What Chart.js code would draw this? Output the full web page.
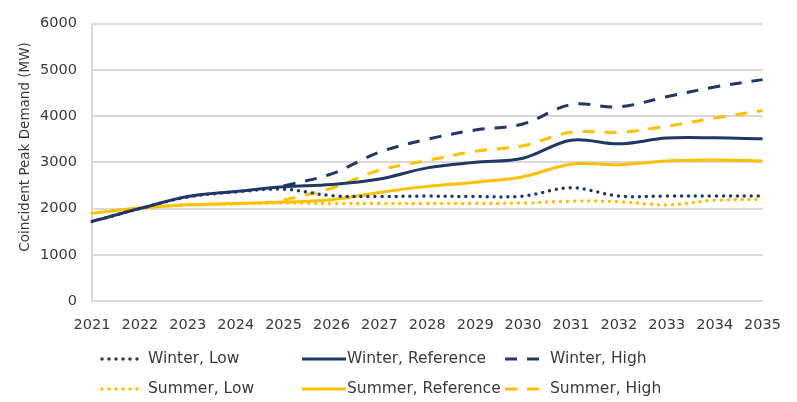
<!DOCTYPE html>
<html>
<head>
<meta charset="utf-8">
<script src="https://cdn.jsdelivr.net/npm/chart.js@4.4.0/dist/chart.umd.min.js"></script>
<style>
html,body{margin:0;padding:0;background:#fff;}
#wrap{position:relative;width:797px;height:402px;}
</style>
</head>
<body>
<div id="wrap"><canvas id="c" width="797" height="402"></canvas></div>
<script>
const years = ['2021','2022','2023','2024','2025','2026','2027','2028','2029','2030','2031','2032','2033','2034','2035'];
const winterLow  = [1720, 2000, 2250, 2360, 2420, 2280, 2260, 2270, 2260, 2270, 2450, 2270, 2270, 2270, 2270];
const winterRef  = [1720, 2000, 2260, 2370, 2470, 2520, 2640, 2880, 3000, 3090, 3480, 3400, 3525, 3530, 3510];
const winterHigh = [null, null, null, null, 2490, 2750, 3220, 3500, 3700, 3830, 4250, 4200, 4420, 4630, 4790];
const summerLow  = [1900, 2010, 2080, 2100, 2120, 2110, 2110, 2110, 2110, 2120, 2160, 2150, 2080, 2180, 2200];
const summerRef  = [1900, 2010, 2080, 2110, 2140, 2190, 2350, 2480, 2570, 2690, 2960, 2950, 3030, 3050, 3030];
const summerHigh = [null, null, null, null, 2180, 2440, 2830, 3040, 3240, 3360, 3650, 3650, 3780, 3960, 4120];
const yTicks = [0, 1000, 2000, 3000, 4000, 5000, 6000];
const yTitle = 'Coincident Peak Demand (MW)';

const NAVY = '#1f3864';
const GOLD = '#ffc000';
const FONT = '"DejaVu Sans", Verdana, sans-serif';
const TXT = '#3a3a3a';

function ds(label, data, color, kind) {
  const o = {label, data, borderColor: color, backgroundColor: color, borderWidth: 3,
    pointRadius: 0, pointHoverRadius: 0, tension: 0.35, fill: false, spanGaps: false};
  if (kind === 'dot') { o.borderDash = [0, 7]; o.borderCapStyle = 'round'; o.borderWidth = 3.5; }
  else if (kind === 'dash') { o.borderDash = [12, 10]; o.borderCapStyle = 'butt'; }
  o.kind = kind;
  return o;
}

const datasets = [
  ds('Winter, Low', winterLow, NAVY, 'dot'),
  ds('Winter, Reference', winterRef, NAVY, 'solid'),
  ds('Winter, High', winterHigh, NAVY, 'dash'),
  ds('Summer, Low', summerLow, GOLD, 'dot'),
  ds('Summer, Reference', summerRef, GOLD, 'solid'),
  ds('Summer, High', summerHigh, GOLD, 'dash')
];

const legendCols = [
  {sx: 100, sw: 38, tx: 148},
  {sx: 302, sw: 44, tx: 347},
  {sx: 505, sw: 38, tx: 550}
];
const legendRows = [359, 389];

const customPlugin = {
  id: 'custom',
  afterDraw(chart) {
    const ctx = chart.ctx;
    ctx.save();
    ctx.translate(25, 147);
    ctx.rotate(-Math.PI / 2);
    ctx.font = '13.5px ' + FONT;
    ctx.fillStyle = TXT;
    ctx.textAlign = 'center';
    ctx.textBaseline = 'middle';
    ctx.fillText(yTitle, 0, 0);
    ctx.restore();
    chart.data.datasets.forEach((d, i) => {
      const col = legendCols[i % 3];
      const y = legendRows[Math.floor(i / 3)];
      ctx.save();
      ctx.strokeStyle = d.borderColor;
      ctx.lineWidth = d.borderWidth;
      ctx.lineCap = d.borderCapStyle || 'butt';
      ctx.setLineDash(d.borderDash || []);
      ctx.beginPath();
      if (d.kind === 'dot') { ctx.moveTo(col.sx + 2, y); ctx.lineTo(col.sx + col.sw, y); }
      else { ctx.moveTo(col.sx, y); ctx.lineTo(col.sx + col.sw, y); }
      ctx.stroke();
      ctx.setLineDash([]);
      ctx.font = '15.5px ' + FONT;
      ctx.fillStyle = TXT;
      ctx.textAlign = 'left';
      ctx.textBaseline = 'middle';
      ctx.fillText(d.label, col.tx, y);
      ctx.restore();
    });
  }
};

new Chart(document.getElementById('c'), {
  type: 'line',
  data: {labels: years, datasets},
  options: {
    responsive: false,
    animation: false,
    devicePixelRatio: 1,
    layout: {padding: {left: 0, right: 31, top: 19, bottom: 61}},
    plugins: {legend: {display: false}, tooltip: {enabled: false}, title: {display: false}},
    scales: {
      x: {
        offset: false,
        grid: {display: false, drawTicks: false},
        border: {display: true, color: '#d9d9d9', width: 2},
        ticks: {color: TXT, font: {family: FONT, size: 14.5}, padding: 16, autoSkip: false, maxRotation: 0},
        afterFit(s) { s.height = 40; }
      },
      y: {
        min: 0, max: 6000,
        afterBuildTicks(s) { s.ticks = yTicks.map(v => ({value: v})); },
        grid: {color: '#d9d9d9', lineWidth: 2, drawTicks: false},
        border: {display: true, color: '#d9d9d9', width: 2},
        ticks: {color: TXT, font: {family: FONT, size: 14.5}, padding: 15, callback: v => String(v)},
        afterFit(s) { s.width = 92; }
      }
    }
  },
  plugins: [customPlugin]
});
</script>
</body>
</html>
